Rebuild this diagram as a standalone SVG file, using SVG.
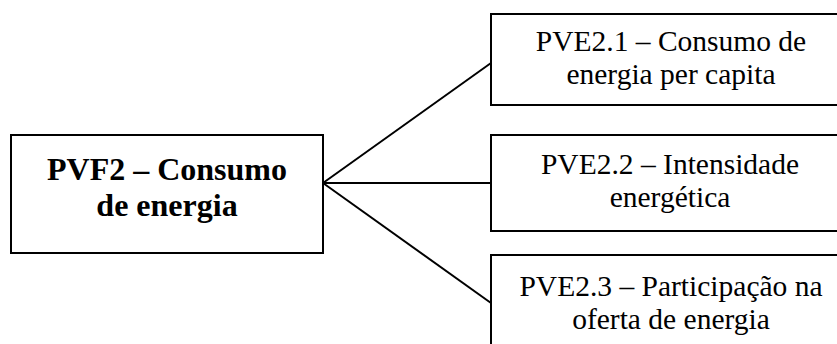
<svg xmlns="http://www.w3.org/2000/svg" width="837" height="344" viewBox="0 0 837 344">
<style>
.box{fill:#fff;stroke:#000;stroke-width:2}
.conn{fill:none;stroke:#000;stroke-width:2}
.t{font-family:"Liberation Serif","Times New Roman",serif;font-size:29.5px;fill:#000;text-anchor:middle}
.tb{font-family:"Liberation Serif","Times New Roman",serif;font-size:32px;font-weight:bold;fill:#000;text-anchor:middle}
</style>
<rect width="837" height="344" fill="#fff"/>
<g id="connectors">
<line class="conn" x1="323" y1="183" x2="491" y2="63"/>
<line class="conn" x1="323" y1="183" x2="491" y2="183"/>
<line class="conn" x1="323" y1="183" x2="491" y2="303"/>
</g>
<g id="pvf2">
<rect class="box" x="11" y="135" width="312" height="118"/>
<text class="tb" x="167" y="180">PVF2 – Consumo</text>
<text class="tb" x="167" y="216">de energia</text>
</g>
<g id="pve21">
<rect class="box" x="491" y="14" width="360" height="91"/>
<text class="t" x="671" y="51">PVE2.1 – Consumo de</text>
<text class="t" x="671" y="84">energia per capita</text>
</g>
<g id="pve22">
<rect class="box" x="491" y="135" width="360" height="96"/>
<text class="t" x="670" y="174">PVE2.2 – Intensidade</text>
<text class="t" x="670" y="207">energética</text>
</g>
<g id="pve23">
<rect class="box" x="491" y="255" width="360" height="100"/>
<text class="t" x="671" y="296">PVE2.3 – Participação na</text>
<text class="t" x="671" y="329">oferta de energia</text>
</g>
</svg>
